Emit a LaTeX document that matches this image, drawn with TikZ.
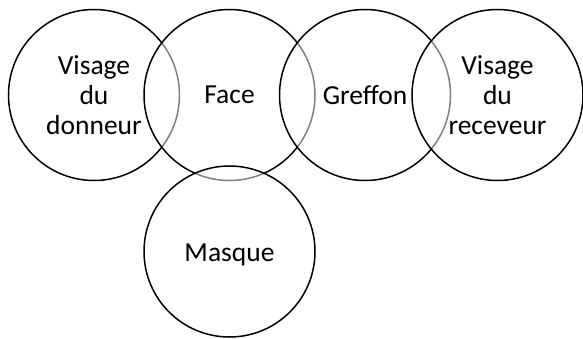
\documentclass[tikz,border=0pt]{standalone}
\usepackage{fontspec}
\setmainfont{Carlito}
\usepackage{tikz}

\begin{document}
\begin{tikzpicture}[x=1pt,y=-1pt,
    every node/.style={font=\fontsize{27.5}{30}\selectfont, align=center},
    zone/.style={circle, draw=black, line width=1.5pt, fill=white,
      fill opacity=0.5, text opacity=1, minimum size=171pt, inner sep=0pt}]
  \useasboundingbox (0,0) rectangle (583,338);

  \node[zone] (donneur) at (94,95) {Visage\\du\\donneur};
  \node[zone] (face) at (229.5,95) {Face};
  \node[zone] (greffon) at (365,95) {Greffon};
  \node[zone] (receveur) at (497.5,95) {Visage\\du\\receveur};

  \node[zone, text depth=0pt] (masque) at (229.5,251.5) {\raisebox{-3pt}{Masque}};
\end{tikzpicture}
\end{document}
